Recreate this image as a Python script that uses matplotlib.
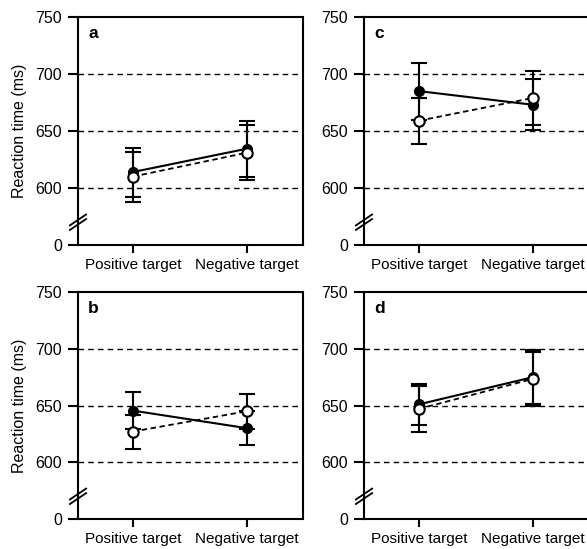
import matplotlib.pyplot as plt

plt.rcParams['font.family'] = ['Liberation Sans', 'DejaVu Sans']

# categories and tick labels
conditions = ["Positive target", "Negative target"]
ytick_values = [550, 600, 650, 700, 750]   # 550 plays the role of the broken-axis zero
ytick_labels = ["0", "600", "650", "700", "750"]
panel_names = ["a", "b", "c", "d"]

# mean RT (ms) and error (ms): filled = solid line, open = dashed line
filled_mean = {"a": [614, 634.5], "b": [645.5, 630], "c": [685, 673], "d": [651, 675]}
filled_err = {"a": [21.5, 24.5], "b": [16, 15], "c": [25, 22.5], "d": [18, 24]}
open_mean = {"a": [610, 631], "b": [627, 645], "c": [659, 679], "d": [647, 673.5]}
open_err = {"a": [22, 24], "b": [15, 15.5], "c": [20, 24], "d": [20, 23.5]}

fig = plt.figure(figsize=(5.87, 5.49), dpi=100)

W, H = 587, 549
boxes = {
    "a": (78, 17, 225, 228),
    "c": (364, 17, 225, 228),
    "b": (78, 292, 225, 227),
    "d": (364, 292, 225, 227),
}

for name in panel_names:
    x0, y0, w, h = boxes[name]
    ax = fig.add_axes([x0 / W, 1 - (y0 + h) / H, w / W, h / H])
    x = list(range(len(conditions)))

    # dashed reference lines
    for yv in [600, 650, 700]:
        ax.axhline(yv, color="black", lw=1, linestyle=(0, (4, 3)), zorder=1)

    ax.errorbar(x, open_mean[name], yerr=open_err[name], color="black",
                lw=1.3, linestyle=(0, (3, 2)), marker="o", markersize=7.5,
                markerfacecolor="white", markeredgecolor="black", markeredgewidth=1.5,
                capsize=6, capthick=1.5, elinewidth=1.5, zorder=3)
    ax.errorbar(x, filled_mean[name], yerr=filled_err[name], color="black",
                lw=1.5, linestyle="-", marker="o", markersize=7,
                markerfacecolor="black", markeredgecolor="black",
                capsize=6, capthick=1.5, elinewidth=1.5, zorder=2)

    ax.set_xlim(-0.48, 1.49)
    ax.set_ylim(550, 750)
    ax.set_xticks(x)
    ax.set_xticklabels(conditions, fontsize=11)
    ax.set_yticks(ytick_values)
    ax.set_yticklabels(ytick_labels, fontsize=11.5)
    ax.tick_params(axis="y", direction="out", length=7.5, width=1.5, pad=4)
    ax.tick_params(axis="x", direction="out", length=6, width=1.5, pad=3)
    for sp in ax.spines.values():
        sp.set_linewidth(1.5)

    if name in ("a", "b"):
        ax.set_ylabel("Reaction time (ms)", fontsize=11.5, labelpad=6)

    ax.text(0.045, 0.96, name, transform=ax.transAxes, fontsize=12.5,
            fontweight="bold", va="top", ha="left")

    # axis break marks
    for off in (0.09, 0.11):
        ax.plot([-0.036, 0.036], [off - 0.024, off + 0.024], color="black",
                lw=1.3, transform=ax.transAxes, clip_on=False, zorder=5)

fig.savefig("out.png", dpi=100)
